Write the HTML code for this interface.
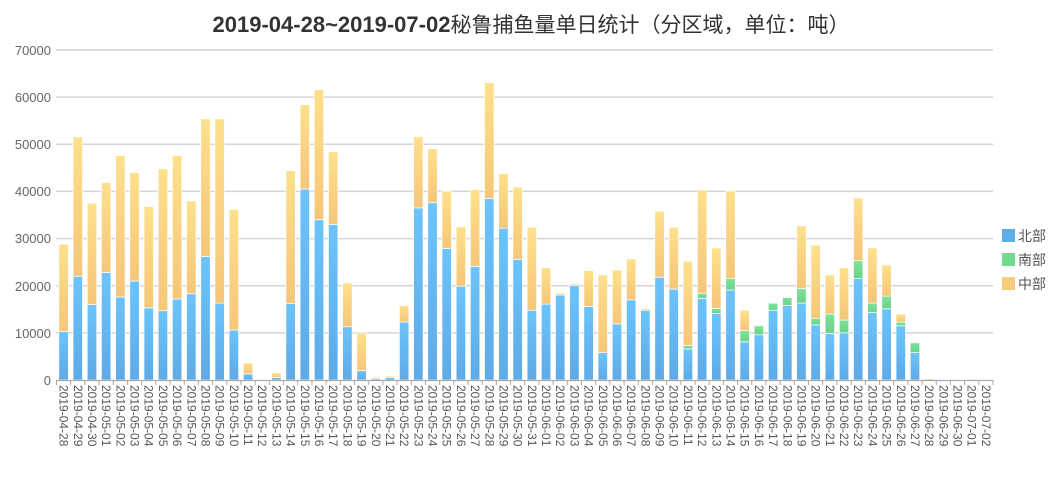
<!DOCTYPE html>
<html><head><meta charset="utf-8"><style>
body{margin:0;background:#fff;}
svg{display:block;font-family:"Liberation Sans","Noto Sans CJK SC",sans-serif;}
</style></head><body>
<svg id="s" width="1064" height="477" viewBox="0 0 1064 477">
<defs>
<linearGradient id="gb" x1="0" y1="0" x2="0" y2="1"><stop offset="0" stop-color="#6cc4fb"/><stop offset="1" stop-color="#5eaae6"/></linearGradient>
<linearGradient id="go" x1="0" y1="0" x2="0" y2="1"><stop offset="0" stop-color="#fee08b"/><stop offset="1" stop-color="#f6c679"/></linearGradient>
<linearGradient id="gg" x1="0" y1="0" x2="0" y2="1"><stop offset="0" stop-color="#7ee29a"/><stop offset="1" stop-color="#6ad28a"/></linearGradient>
</defs>
<text x="531" y="32" text-anchor="middle" font-size="22" fill="#333"><tspan font-weight="bold">2019-04-28~2019-07-02</tspan><tspan font-size="21">秘鲁捕鱼量单日统计（分区域，单位：吨）</tspan></text>
<g stroke="#d4d4d4" stroke-width="1.5">
<line x1="56" y1="50" x2="993" y2="50"/><line x1="56" y1="97.1" x2="993" y2="97.1"/><line x1="56" y1="144.3" x2="993" y2="144.3"/><line x1="56" y1="191.4" x2="993" y2="191.4"/><line x1="56" y1="238.6" x2="993" y2="238.6"/><line x1="56" y1="285.7" x2="993" y2="285.7"/><line x1="56" y1="332.9" x2="993" y2="332.9"/>
</g>
<g font-size="13" fill="#666" text-anchor="end">
<text x="51" y="55">70000</text><text x="51" y="102">60000</text><text x="51" y="149">50000</text><text x="51" y="196">40000</text><text x="51" y="243">30000</text><text x="51" y="291">20000</text><text x="51" y="338">10000</text><text x="51" y="385">0</text>
</g>
<g id="bars"></g>
<line x1="56" y1="380.5" x2="993" y2="380.5" stroke="#aaa" stroke-width="1.2"/>
<g id="ticks" stroke="#aaa"></g>
<g id="labs" font-size="12" fill="#555">
<text>2019-04-28</text><text>2019-04-29</text><text>2019-04-30</text><text>2019-05-01</text><text>2019-05-02</text><text>2019-05-03</text><text>2019-05-04</text><text>2019-05-05</text><text>2019-05-06</text><text>2019-05-07</text><text>2019-05-08</text><text>2019-05-09</text><text>2019-05-10</text><text>2019-05-11</text><text>2019-05-12</text><text>2019-05-13</text><text>2019-05-14</text><text>2019-05-15</text><text>2019-05-16</text><text>2019-05-17</text><text>2019-05-18</text><text>2019-05-19</text><text>2019-05-20</text><text>2019-05-21</text><text>2019-05-22</text><text>2019-05-23</text><text>2019-05-24</text><text>2019-05-25</text><text>2019-05-26</text><text>2019-05-27</text><text>2019-05-28</text><text>2019-05-29</text><text>2019-05-30</text><text>2019-05-31</text><text>2019-06-01</text><text>2019-06-02</text><text>2019-06-03</text><text>2019-06-04</text><text>2019-06-05</text><text>2019-06-06</text><text>2019-06-07</text><text>2019-06-08</text><text>2019-06-09</text><text>2019-06-10</text><text>2019-06-11</text><text>2019-06-12</text><text>2019-06-13</text><text>2019-06-14</text><text>2019-06-15</text><text>2019-06-16</text><text>2019-06-17</text><text>2019-06-18</text><text>2019-06-19</text><text>2019-06-20</text><text>2019-06-21</text><text>2019-06-22</text><text>2019-06-23</text><text>2019-06-24</text><text>2019-06-25</text><text>2019-06-26</text><text>2019-06-27</text><text>2019-06-28</text><text>2019-06-29</text><text>2019-06-30</text><text>2019-07-01</text><text>2019-07-02</text>
</g>
<rect x="1002" y="229" width="13" height="13" fill="#5eaee8"/>
<rect x="1002" y="253" width="13" height="13" fill="#72d98f"/>
<rect x="1002" y="277" width="13" height="13" fill="#f7ca7c"/>
<g font-size="14" fill="#555"><text x="1018" y="241">北部</text><text x="1018" y="265">南部</text><text x="1018" y="289">中部</text></g>
</svg>
<script>
var d=[[10.3,0,28.8],[22,0,51.6],[16,0,37.5],[22.8,0,41.9],[17.6,0,47.6],[21,0,44],[15.3,0,36.8],[14.7,0,44.8],[17.2,0,47.6],[18.3,0,38],[26.2,0,55.4],[16.3,0,55.4],[10.6,0,36.2],[1.3,0,3.6],[0,0,0],[0.5,0,1.5],[16.2,0,44.4],[40.5,0,58.4],[34,0,61.6],[33,0,48.4],[11.3,0,20.6],[2,0,10],[0.3,0,0.6],[0.5,0,0.8],[12.3,0,15.8],[36.5,0,51.6],[37.6,0,49.1],[27.9,0,40.1],[19.9,0,32.5],[24.1,0,40.4],[38.5,0,63.1],
[32.2,0,43.8],[25.6,0,40.9],[14.8,0.3,32.4],[16.1,0,23.8],[18,0,18.4],[20.1,0,20.4],[15.6,0,23.2],[5.8,0,22.3],[11.9,0,23.3],[17,0,25.7],[14.8,0,15.1],[21.8,0,35.8],[19.3,0,32.4],[6.6,7.3,25.2],[17.3,18.4,40.3],[14.1,15.2,28],[19.1,21.5,40.1],[8.1,10.5,14.8],[9.6,11.5,11.7],[14.8,16.3,16.4],[15.8,17.5,17.7],[16.3,19.4,32.7],[11.7,13.1,28.6],[9.9,14,22.3],[10,12.7,23.8],[21.5,25.3,38.6],[14.3,16.3,28],[15.1,17.8,24.4],[11.5,12.3,14],[5.8,7.9,8.1],[0,0,0.3],[0,0,0],[0,0,0],[0,0,0.2],[0,0,0]];
var ns="http://www.w3.org/2000/svg",g=document.getElementById('bars'),tk=document.getElementById('ticks');
var x0=56.5,w=(993-56.5)/66,k=330/70;
function R(x,y1,y2,f){if(y2-y1<=0)return;var r=document.createElementNS(ns,'rect');r.setAttribute('x',x);r.setAttribute('y',380-y2*k);r.setAttribute('width',9.5);r.setAttribute('height',(y2-y1)*k);r.setAttribute('fill',f);r.setAttribute('stroke','#fff');r.setAttribute('stroke-width','0.7');g.appendChild(r);}
var labs=document.getElementById('labs').children;
for(var i=0;i<66;i++){var c=x0+w*(i+0.5),v=d[i],s=Math.max(v[1],v[0]);
R(c-4.75,0,v[0],'url(#gb)');R(c-4.75,v[0],s,'url(#gg)');R(c-4.75,s,v[2],'url(#go)');
labs[i].setAttribute('transform','translate('+(c-4)+',385) rotate(90)');}
for(var i=0;i<=66;i++){var l=document.createElementNS(ns,'line'),x=x0+w*i;l.setAttribute('x1',x);l.setAttribute('x2',x);l.setAttribute('y1',380);l.setAttribute('y2',385);tk.appendChild(l);}
</script>
</body></html>
